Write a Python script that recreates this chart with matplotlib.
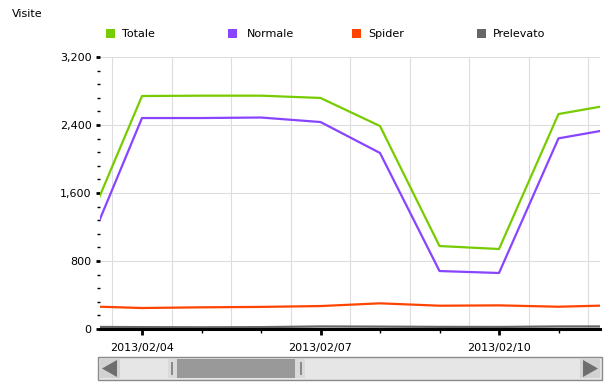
import numpy as np
import matplotlib
matplotlib.use("Agg")
import matplotlib.pyplot as plt
import matplotlib.dates as mdates
from matplotlib.patches import Rectangle, Polygon
from matplotlib.ticker import FuncFormatter, MultipleLocator
import datetime as dt

# daily visits, 2013/02/03 .. 2013/02/12
days = [dt.datetime(2013, 2, 3) + dt.timedelta(days=i) for i in range(10)]
totale = [1084, 2741, 2745, 2745, 2718, 2388, 976, 941, 2529, 2652]
normale = [799, 2482, 2482, 2488, 2435, 2071, 682, 659, 2243, 2366]
spider = [268, 247, 255, 260, 270, 302, 274, 278, 262, 280]
prelevato = [25, 22, 20, 22, 30, 28, 25, 24, 30, 30]

series = ["Totale", "Normale", "Spider", "Prelevato"]
colors = ["#77cc00", "#8844ff", "#ff4400", "#666666"]

W, H = 612, 389
fig = plt.figure(figsize=(W / 100, H / 100), dpi=100)
fig.patch.set_facecolor("white")


def px(x, y):
    return x / W, 1 - y / H


ax = fig.add_axes([100 / W, 1 - 329 / H, 500 / W, 272 / H])

x0 = mdates.date2num(dt.datetime(2013, 2, 4)) - 42 / 59.5
x1 = mdates.date2num(dt.datetime(2013, 2, 4)) + 458 / 59.5
ax.set_xlim(x0, x1)
ax.set_ylim(0, 3200)

# vertical grid at noon of each day
for d in days:
    xn = mdates.date2num(d) + 0.5
    if x0 < xn < x1:
        ax.axvline(xn, color="#dddddd", lw=0.8, zorder=0)
for v in range(800, 3201, 800):
    ax.axhline(v, color="#dddddd", lw=0.8, zorder=0)

ax.plot(days, prelevato, color=colors[3], lw=1.6, zorder=2)
ax.plot(days, spider, color=colors[2], lw=1.6, zorder=3)
ax.plot(days, normale, color=colors[1], lw=1.6, zorder=4)
ax.plot(days, totale, color=colors[0], lw=1.6, zorder=5)

ax.xaxis.set_major_locator(mdates.DayLocator(bymonthday=[1, 4, 7, 10, 13]))
ax.xaxis.set_minor_locator(mdates.DayLocator())
ax.xaxis.set_major_formatter(mdates.DateFormatter("%Y/%m/%d"))
ax.yaxis.set_major_locator(MultipleLocator(800))
ax.yaxis.set_minor_locator(MultipleLocator(160))
ax.yaxis.set_major_formatter(FuncFormatter(lambda v, p: f"{int(v):,}"))

for s in ["top", "right", "left"]:
    ax.spines[s].set_visible(False)
ax.spines["bottom"].set_linewidth(2.2)
ax.spines["bottom"].set_color("black")
ax.spines["bottom"].set_zorder(6)

ax.tick_params(axis="y", which="major", length=3, width=2, pad=3, labelsize=8, color="black")
ax.tick_params(axis="y", which="minor", length=2, width=1, color="black")
ax.tick_params(axis="x", which="major", length=4, width=2, pad=6, labelsize=8, color="black")
ax.tick_params(axis="x", which="minor", length=3, width=1, color="black")

# title
fig.text(*px(12, 14), "Visite", fontsize=8, va="center", ha="left")

# legend
sq_x = [106, 228, 352, 477]
tx_x = [122, 247, 368, 493]
for name, c, sx, tx in zip(series, colors, sq_x, tx_x):
    fig.patches.append(Rectangle(px(sx, 38), 9 / W, 9 / H, transform=fig.transFigure,
                                 facecolor=c, edgecolor="none"))
    fig.text(*px(tx, 34), name, fontsize=8, va="center", ha="left")

# scrollbar
def frect(xa, ya, xb, yb, fc, ec="none", lw=0):
    fig.patches.append(Rectangle(px(xa, yb), (xb - xa) / W, (yb - ya) / H,
                                 transform=fig.transFigure, facecolor=fc,
                                 edgecolor=ec, linewidth=lw))

frect(98, 357, 602, 380, "#e6e6e6", "#8a8a8a", 1)
frect(100, 359, 120, 378, "#d2d2d2")
frect(580, 359, 600, 378, "#d2d2d2")
frect(168, 359, 305, 378, "#dadada")
frect(177, 359, 295, 378, "#999999")
frect(171, 362, 173, 375, "#8a8a8a")
frect(300, 362, 302, 375, "#8a8a8a")
fig.patches.append(Polygon([px(102, 368.5), px(117, 360), px(117, 377)], closed=True,
                           transform=fig.transFigure, facecolor="#6e6e6e"))
fig.patches.append(Polygon([px(598, 368.5), px(583, 360), px(583, 377)], closed=True,
                           transform=fig.transFigure, facecolor="#6e6e6e"))

fig.savefig("out.png", dpi=100)
